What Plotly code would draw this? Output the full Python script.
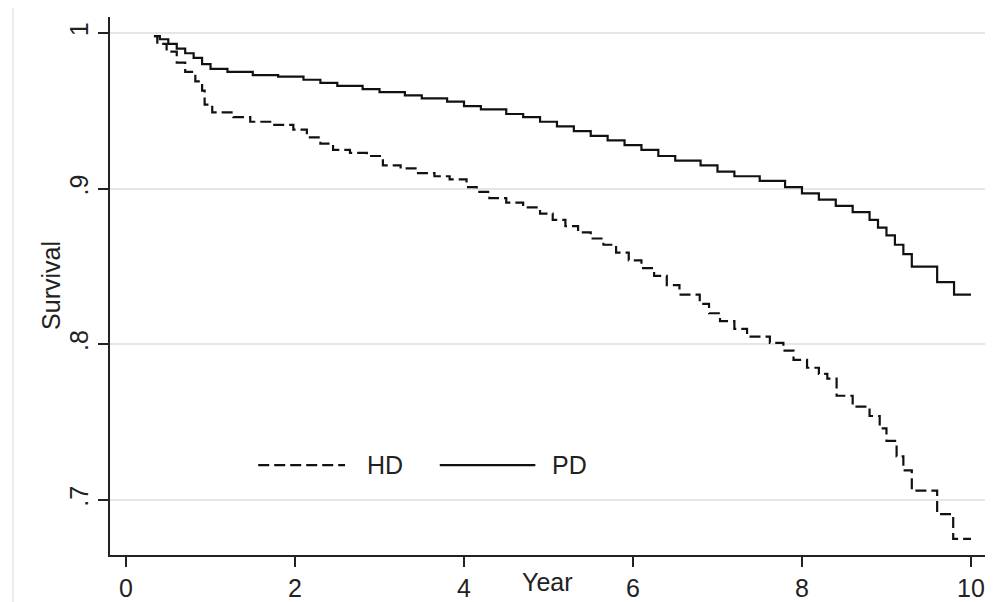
import plotly.graph_objects as go

# Kaplan-Meier step curves
hd_time = [0.33, 0.37, 0.48, 0.60, 0.70, 0.82, 0.90, 0.93, 1.02, 1.27,
           1.47, 1.74, 1.98, 2.14, 2.30, 2.45, 2.65, 2.85, 3.04, 3.25,
           3.44, 3.65, 3.83, 4.03, 4.15, 4.30, 4.50, 4.70, 4.90, 5.05,
           5.20, 5.35, 5.50, 5.65, 5.80, 5.95, 6.10, 6.25, 6.40, 6.55,
           6.79, 6.90, 7.03, 7.20, 7.35, 7.62, 7.78, 7.90, 8.06, 8.20,
           8.30, 8.41, 8.60, 8.80, 8.92, 9.00, 9.12, 9.20, 9.30, 9.60,
           9.79, 10.0]
hd_surv = [0.998, 0.993, 0.988, 0.981, 0.975, 0.969, 0.963, 0.954, 0.949, 0.946,
           0.943, 0.941, 0.938, 0.933, 0.929, 0.925, 0.923, 0.921, 0.915, 0.913,
           0.910, 0.908, 0.906, 0.901, 0.898, 0.894, 0.891, 0.888, 0.884, 0.880,
           0.876, 0.872, 0.868, 0.864, 0.859, 0.854, 0.849, 0.844, 0.838, 0.832,
           0.826, 0.820, 0.815, 0.810, 0.805, 0.801, 0.796, 0.790, 0.785, 0.781,
           0.778, 0.767, 0.760, 0.754, 0.746, 0.738, 0.728, 0.719, 0.706, 0.691,
           0.675, 0.675]

pd_time = [0.33, 0.40, 0.50, 0.60, 0.70, 0.80, 0.90, 1.00, 1.20, 1.50,
           1.80, 2.10, 2.30, 2.50, 2.80, 3.00, 3.30, 3.50, 3.80, 4.00,
           4.20, 4.50, 4.70, 4.90, 5.10, 5.30, 5.50, 5.70, 5.90, 6.10,
           6.30, 6.50, 6.80, 7.00, 7.20, 7.50, 7.80, 8.00, 8.20, 8.40,
           8.60, 8.80, 8.90, 9.00, 9.10, 9.20, 9.30, 9.60, 9.80, 10.0]
pd_surv = [0.998, 0.996, 0.993, 0.990, 0.987, 0.984, 0.980, 0.977, 0.975, 0.973,
           0.972, 0.970, 0.968, 0.966, 0.964, 0.962, 0.960, 0.958, 0.956, 0.953,
           0.951, 0.948, 0.946, 0.943, 0.940, 0.937, 0.934, 0.931, 0.928, 0.925,
           0.921, 0.918, 0.915, 0.911, 0.908, 0.905, 0.901, 0.897, 0.893, 0.889,
           0.885, 0.880, 0.875, 0.870, 0.864, 0.858, 0.850, 0.840, 0.832, 0.832]

x_ticks = [0, 2, 4, 6, 8, 10]
y_ticks = [0.7, 0.8, 0.9, 1.0]
y_tick_labels = [".7", ".8", ".9", "1"]

FONT = "Liberation Sans, Arial, sans-serif"
DASH = "11px,5px"
FS = 25

fig = go.Figure()
fig.add_trace(go.Scatter(x=hd_time, y=hd_surv, mode="lines", name="HD",
                         line=dict(shape="hv", color="#111111", width=2.2, dash=DASH)))
fig.add_trace(go.Scatter(x=pd_time, y=pd_surv, mode="lines", name="PD",
                         line=dict(shape="hv", color="#111111", width=2.2)))

# page body has an 8px margin, so the figure is sized to fit the 993x602 window
fig.update_layout(
    width=985, height=594,
    margin=dict(l=102, r=6, t=9, b=47, autoexpand=False),
    paper_bgcolor="white", plot_bgcolor="white",
    showlegend=False,
    font=dict(family=FONT, color="#222222", size=FS),
)
fig.update_xaxes(
    range=[-0.19, 10.19], tickvals=x_ticks, ticks="outside", ticklen=10, tickwidth=1.5,
    tickcolor="#222", showline=True, linecolor="#222", linewidth=1.5,
    showgrid=False, zeroline=False, tickfont=dict(size=FS, family=FONT),
    ticklabelstandoff=0, automargin=False,
)
fig.update_yaxes(
    range=[0.6647, 1.0103], tickvals=y_ticks, ticktext=y_tick_labels,
    ticks="outside", ticklen=10, tickwidth=1.5, tickcolor="#222",
    tickangle=-90, showline=True, linecolor="#222", linewidth=1.5,
    showgrid=True, gridcolor="#e6e6e6", gridwidth=2, zeroline=False,
    tickfont=dict(size=FS, family=FONT), ticklabelstandoff=0, automargin=False,
)

# faint outer frame line at left
fig.add_shape(type="line", xref="paper", yref="paper", x0=-0.1106, x1=-0.1106,
              y0=-0.1, y1=1.04, line=dict(color="#ececec", width=2))

# axis titles
fig.add_annotation(text="Survival", xref="paper", yref="paper", x=-0.0673, y=0.502,
                   xanchor="center", yanchor="middle", textangle=-90, showarrow=False,
                   font=dict(size=FS, family=FONT, color="#222"))
fig.add_annotation(text="Year", xref="paper", yref="paper", x=0.4994, y=-0.050,
                   xanchor="center", yanchor="middle", showarrow=False,
                   font=dict(size=FS, family=FONT, color="#222"))

# legend drawn inside plot
fig.add_shape(type="line", xref="paper", yref="paper", x0=0.169, x1=0.268, y0=0.167, y1=0.167,
              line=dict(color="#111", width=2.2, dash=DASH))
fig.add_annotation(text="HD", xref="paper", yref="paper", x=0.291, y=0.167,
                   xanchor="left", yanchor="middle",
                   showarrow=False, font=dict(size=FS, family=FONT, color="#222"))
fig.add_shape(type="line", xref="paper", yref="paper", x0=0.376, x1=0.485, y0=0.167, y1=0.167,
              line=dict(color="#111", width=2.2))
fig.add_annotation(text="PD", xref="paper", yref="paper", x=0.502, y=0.167,
                   xanchor="left", yanchor="middle",
                   showarrow=False, font=dict(size=FS, family=FONT, color="#222"))

fig.write_html("out.html")
